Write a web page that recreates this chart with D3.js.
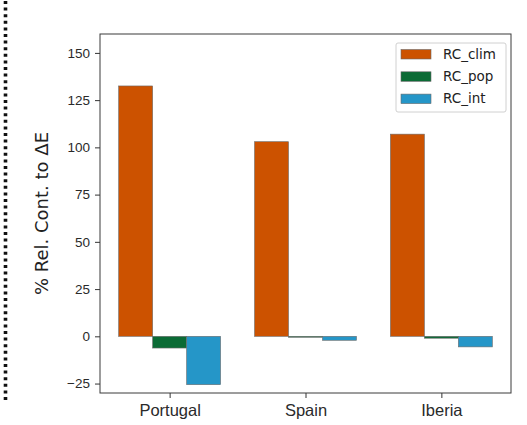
<!DOCTYPE html>
<html>
<head>
<meta charset="utf-8">
<script src="https://cdn.jsdelivr.net/npm/d3@7"></script>
<style>
  html, body { margin: 0; padding: 0; background: #fff; }
  svg { display: block; font-family: "DejaVu Sans", sans-serif; }
</style>
</head>
<body>
<svg id="chart" width="527" height="425"></svg>
<script>
// Regions on the x axis
const regions = ["Portugal", "Spain", "Iberia"];

// Relative contribution of each component (%)
const rcClim = [132.5, 103, 107];
const rcPop  = [-6.2, -0.5, -1.0];
const rcInt  = [-25.6, -2.1, -5.6];

const seriesNames  = ["RC_clim", "RC_pop", "RC_int"];
const seriesColors = ["#CC5200", "#0B6B35", "#2596C8"];
const yTicks = [-25, 0, 25, 50, 75, 100, 125, 150];

const series = [rcClim, rcPop, rcInt].map((vals, k) => ({
  name: seriesNames[k], color: seriesColors[k], values: vals
}));

const svg = d3.select("#chart");
const plot = { left: 100, right: 511, top: 34, bottom: 393 };

// left-hand dotted separator
svg.append("line")
  .attr("x1", 5.5).attr("x2", 5.5)
  .attr("y1", 1).attr("y2", 401)
  .attr("stroke", "#111")
  .attr("stroke-width", 3.6)
  .attr("stroke-dasharray", "3,3.6");

// numeric x positions: category i at i, bars offset by one bar width
const barW = 0.25;
const x = d3.scaleLinear().domain([-0.5125, 2.5125]).range([plot.left, plot.right]);
const y = d3.scaleLinear().domain([-30, 160]).range([plot.bottom, plot.top]);

const g = svg.append("g");

series.forEach((s, k) => {
  const off = (k - 1) * barW;
  g.selectAll(null)
    .data(s.values)
    .enter().append("rect")
    .attr("x", (d, i) => x(i + off - barW / 2))
    .attr("width", x(barW) - x(0))
    .attr("y", d => y(Math.max(0, d)))
    .attr("height", d => Math.abs(y(d) - y(0)))
    .attr("fill", s.color)
    .attr("stroke", "#6a6a6a")
    .attr("stroke-width", 0.6);
});

// axes
const fmt = d => d < 0 ? "\u2212" + Math.abs(d) : String(d);
const yAxis = svg.append("g")
  .attr("transform", `translate(${plot.left},0)`)
  .call(d3.axisLeft(y).tickValues(yTicks).tickFormat(fmt).tickSize(5).tickPadding(5));
yAxis.select(".domain").remove();
yAxis.selectAll(".tick line").attr("stroke", "#333");
yAxis.selectAll(".tick text")
  .attr("fill", "#2a2a2a")
  .style("font-size", "13.5px");

const xAxis = svg.append("g")
  .attr("transform", `translate(0,${plot.bottom})`)
  .call(d3.axisBottom(x).tickValues(d3.range(regions.length))
    .tickFormat(i => regions[i]).tickSize(5).tickPadding(6));
xAxis.select(".domain").remove();
xAxis.selectAll(".tick line").attr("stroke", "#333");
xAxis.selectAll(".tick text")
  .attr("fill", "#2a2a2a")
  .style("font-size", "16.5px");

// frame
svg.append("rect")
  .attr("x", plot.left).attr("y", plot.top)
  .attr("width", plot.right - plot.left)
  .attr("height", plot.bottom - plot.top)
  .attr("fill", "none")
  .attr("stroke", "#3a3a3a")
  .attr("stroke-width", 1);

// y label
svg.append("text")
  .attr("transform", `translate(48,${(plot.top + plot.bottom) / 2}) rotate(-90)`)
  .attr("text-anchor", "middle")
  .attr("fill", "#222")
  .style("font-size", "18px")
  .text("% Rel. Cont. to \u0394E");

// legend
const lg = svg.append("g").attr("transform", "translate(396,43)");
lg.append("rect")
  .attr("width", 110).attr("height", 69)
  .attr("rx", 2)
  .attr("fill", "#fff")
  .attr("stroke", "#d0d0d0")
  .attr("stroke-width", 1);
series.forEach((s, k) => {
  const row = lg.append("g").attr("transform", `translate(5,${6.5 + k * 22.3})`);
  row.append("rect")
    .attr("width", 30).attr("height", 9.5)
    .attr("fill", s.color)
    .attr("stroke", "#6a6a6a").attr("stroke-width", 0.6);
  row.append("text")
    .attr("x", 42).attr("y", 9.3)
    .attr("fill", "#222")
    .style("font-size", "13.5px")
    .text(s.name);
});
</script>
</body>
</html>
